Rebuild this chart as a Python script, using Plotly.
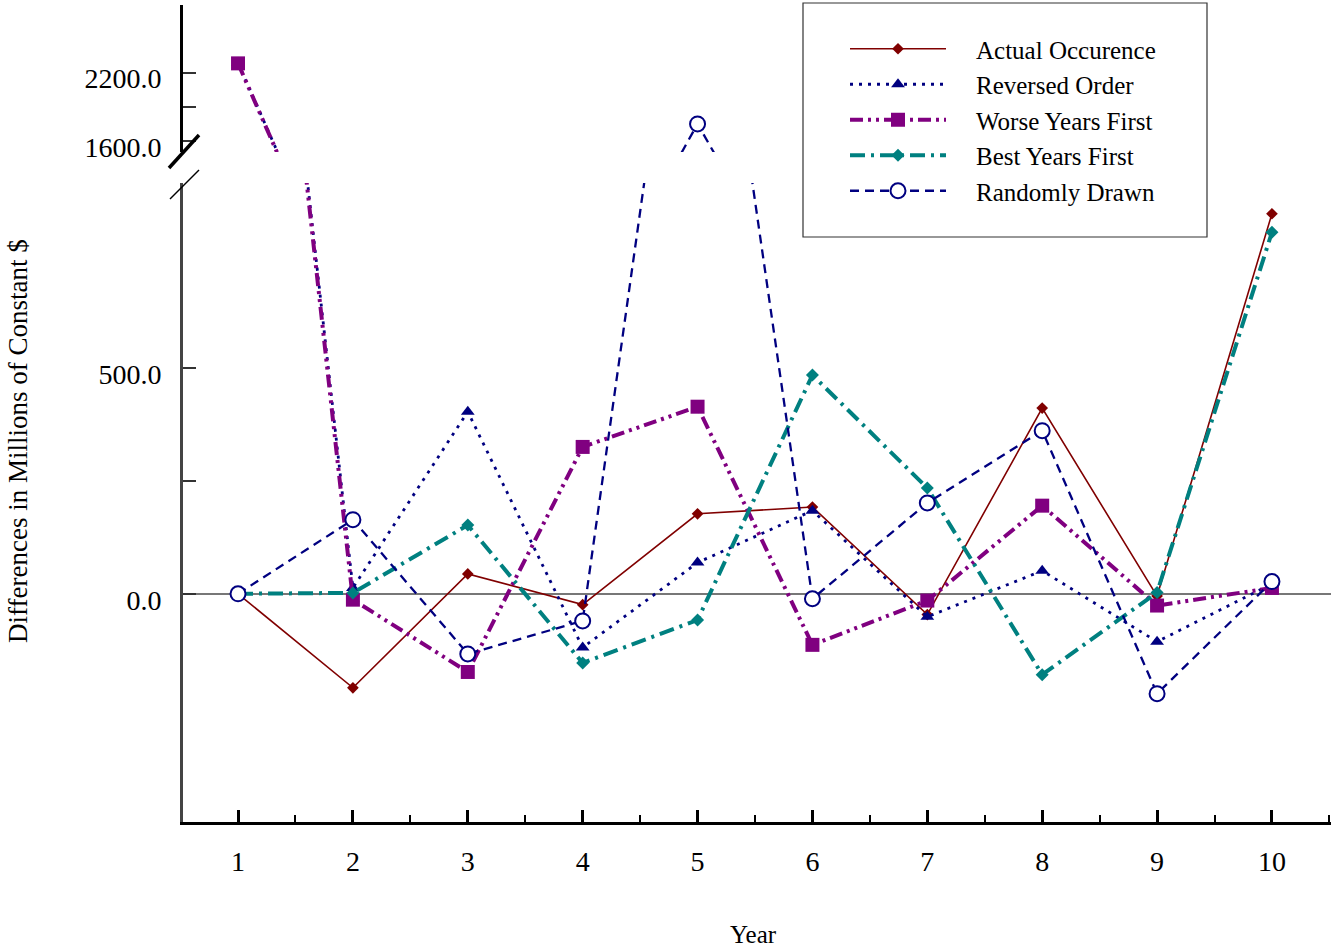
import plotly.graph_objects as go

# ---------------- data ----------------
years = [1, 2, 3, 4, 5, 6, 7, 8, 9, 10]
actual = [0, -208, 44, -24, 177, 192, -46, 411, -5, 841]
reversed_order = [2285, 13, 403, -119, 69, 184, -51, 51, -106, 22]
worse_first = [2280, -13, -173, 325, 414, -113, -15, 195, -26, 13]
best_first = [0, 2, 152, -153, -58, 484, 234, -179, 3, 800]
random_drawn = [0, 164, -133, -60, 1750, -11, 201, 361, -221, 27]

series_names = ["Actual Occurence", "Reversed Order", "Worse Years First",
                "Best Years First", "Randomly Drawn"]
lower_ticks = [0, 250, 500]
lower_ticktext = ["0.0", "", "500.0"]
upper_ticks = [1600, 1900, 2200]
upper_ticktext = ["1600.0", "", "2200.0"]
x_ticks = years

# ---------------- geometry helpers (pixel -> paper) ----------------
W, H = 1331, 951
L, R, T, B = 183, 0, 0, 129
PW = W - L - R
PH = H - T - B


def px(x):
    return (x - L) / PW


def py(y):
    return (H - B - y) / PH


FONT = "Liberation Serif"

styles = [
    dict(line=dict(color="#800000", width=1.6),
         marker=dict(symbol="diamond", size=9, color="#800000")),
    dict(line=dict(color="#000080", width=2.8, dash="3px,6px"),
         marker=dict(symbol="triangle-up", size=12, color="#000080")),
    dict(line=dict(color="#800080", width=4, dash="13px,5px,3px,5px,3px,5px"),
         marker=dict(symbol="square", size=14, color="#800080")),
    dict(line=dict(color="#008080", width=4, dash="15px,6px,3px,6px"),
         marker=dict(symbol="diamond", size=10, color="#008080")),
    dict(line=dict(color="#000080", width=2.3, dash="9px,6px"),
         marker=dict(symbol="circle", size=15, color="white",
                     line=dict(color="#000080", width=2))),
]
data = [actual, reversed_order, worse_first, best_first, random_drawn]

fig = go.Figure()
nb = "\u00a0\u00a0\u00a0\u00a0"
for name, vals, st in zip(series_names, data, styles):
    fig.add_trace(go.Scatter(x=years, y=vals, mode="lines+markers", name=nb + name,
                             legendgroup=name, line=st["line"], marker=st["marker"],
                             xaxis="x", yaxis="y"))
    fig.add_trace(go.Scatter(x=years, y=vals, mode="lines+markers", name=name,
                             legendgroup=name, showlegend=False,
                             line=st["line"], marker=st["marker"],
                             xaxis="x", yaxis="y2"))

axis_font = dict(family=FONT, size=28, color="black")

fig.update_layout(
    width=W, height=H,
    margin=dict(l=L, r=R, t=T, b=B, pad=0),
    paper_bgcolor="white", plot_bgcolor="white",
    font=dict(family=FONT, color="black"),
    xaxis=dict(range=[0.521, 10.514], anchor="y", domain=[0, 1],
               tickmode="array", tickvals=x_ticks, ticktext=[str(v) for v in x_ticks],
               ticks="inside", ticklen=12, tickwidth=2.5, tickcolor="black",
               minor=dict(tickmode="linear", tick0=0.5, dtick=1, ticks="inside",
                          ticklen=7, tickwidth=2, tickcolor="black"),
               showline=True, linewidth=3, linecolor="black",
               showgrid=False, zeroline=False, tickfont=axis_font,
               ticklabelstandoff=12),
    yaxis=dict(range=[-505, 909], domain=[py(822), py(183)], anchor="x",
               tickmode="array", tickvals=lower_ticks, ticktext=lower_ticktext,
               ticks="inside", ticklen=13, tickwidth=2, tickcolor="#333",
               showline=True, linewidth=3, linecolor="#444",
               showgrid=False, zeroline=True, zerolinecolor="#777", zerolinewidth=1.5,
               tickfont=axis_font, ticklabelstandoff=13, ticklabelshift=6),
    yaxis2=dict(range=[1504, 2791], domain=[py(152), py(5)], anchor="x",
                tickmode="array", tickvals=upper_ticks, ticktext=upper_ticktext,
                ticks="inside", ticklen=13, tickwidth=2, tickcolor="#333",
                showline=True, linewidth=3, linecolor="black",
                showgrid=False, zeroline=False,
                tickfont=axis_font, ticklabelstandoff=13, ticklabelshift=6),
    legend=dict(x=px(845), y=py(26), xanchor="left", yanchor="top",
                bgcolor="rgba(0,0,0,0)", borderwidth=0,
                font=dict(family=FONT, size=25, color="black"),
                itemwidth=96, tracegroupgap=0, traceorder="normal"),
    showlegend=True,
)

# legend frame
fig.add_shape(type="rect", xref="paper", yref="paper",
              x0=px(803), x1=px(1207), y0=py(237), y1=py(3),
              line=dict(color="#333", width=1.2), fillcolor="white", layer="below")

# axis break marks
fig.add_shape(type="line", xref="paper", yref="paper",
              x0=px(169), y0=py(168), x1=px(199), y1=py(135),
              line=dict(color="black", width=3.5))
fig.add_shape(type="line", xref="paper", yref="paper",
              x0=px(170), y0=py(199), x1=px(199), y1=py(170),
              line=dict(color="black", width=1.5))

# axis titles
fig.add_annotation(text="Differences in Millions of Constant $", xref="paper", yref="paper",
                   x=px(18), y=py(441), textangle=-90, showarrow=False,
                   xanchor="center", yanchor="middle",
                   font=dict(family=FONT, size=27, color="black"))
fig.add_annotation(text="Year", xref="paper", yref="paper",
                   x=px(753), y=py(935), showarrow=False,
                   xanchor="center", yanchor="middle",
                   font=dict(family=FONT, size=25, color="black"))

fig.write_html("out.html")
